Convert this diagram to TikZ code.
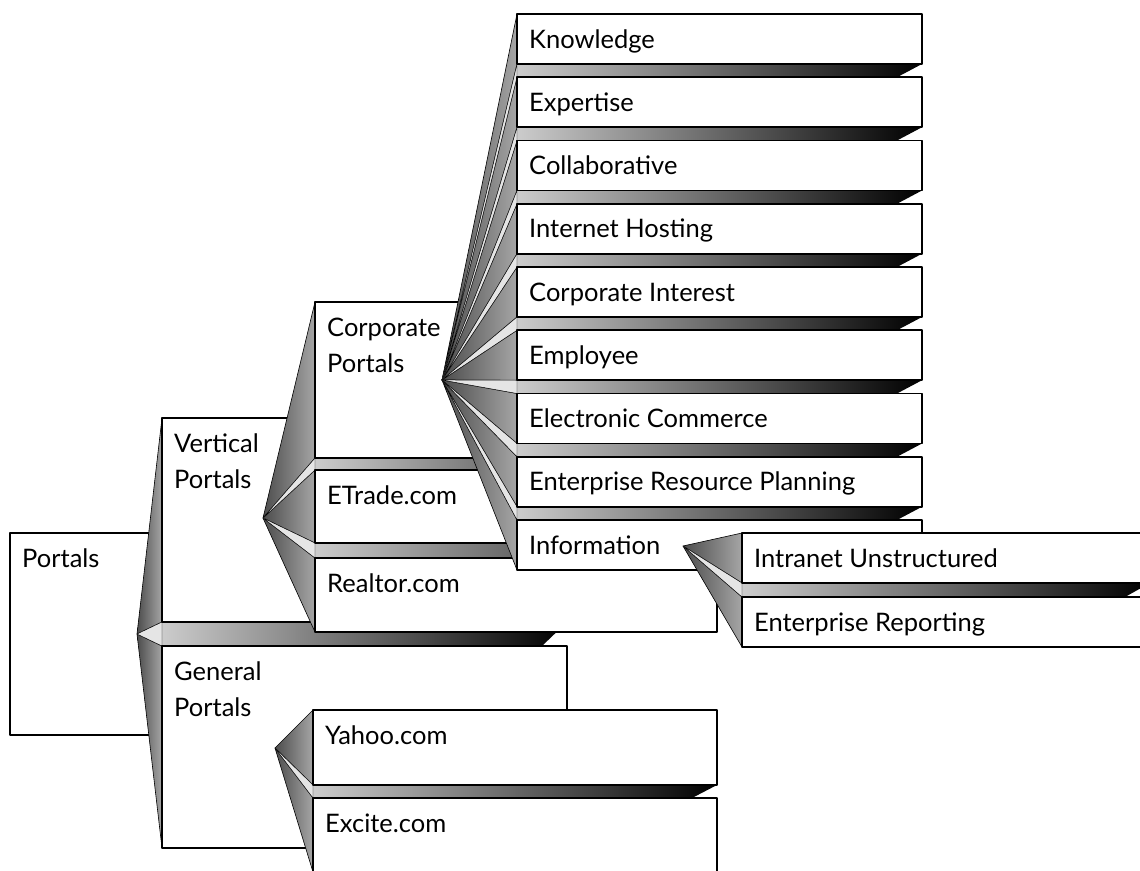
\documentclass[tikz,border=0pt]{standalone}
\usepackage{fontspec}
\setmainfont{Lato}
\usetikzlibrary{calc}
% slot: where a box sits (no ink), pbox: draws it with its text
\def\slot(#1)(#2,#3)(#4,#5){\node[slot, minimum width=#4pt, minimum height=#5pt] (#1) at (#2,#3) {};}
\def\pbox(#1)#2{\draw[boxline] (#1.north west) rectangle (#1.south east); \node[plabel] at ($(#1.north west)+(12,34)$) {\begin{tabular}[t]{@{}l@{}}#2\end{tabular}};}
% one blade of a fan, and the fold between two neighbours
\def\leaf(#1)(#2){\path[leaf] (#1) -- (#2.north west) -- (#2.south west) -- cycle;}
\def\fold(#1)(#2)(#3){\path[band] (#2.south west) -- (#2.south west -| #3.north east) -- ($(#3.north east)+(-25,0)$) -- (#3.north west) -- cycle; \path[gap] (#1) -- (#2.south west) -- (#3.north west) -- cycle;}

\begin{document}
\begin{tikzpicture}[x=1pt, y=-1pt, line join=round,
	slot/.style={anchor=north west, inner sep=0pt, outer sep=0pt},
	boxline/.style={draw=black, fill=white, line width=1.6pt},
	plabel/.style={anchor=base west, inner sep=0pt, font=\fontsize{25.5}{36}\selectfont},
	leaf/.style={draw=black, line width=0.6pt, left color=black!70, right color=black!35},
	band/.style={left color=black!20, right color=black},
	gap/.style={draw=black, line width=0.4pt, fill=black!10}]
			%%%%% START %%%%%
			
			\useasboundingbox (0,0) rectangle (1140,870);
			\clip (0,0) rectangle (1140,870);
			\fill[white] (0,0) rectangle (1140,870);
			
			% boxes
			\slot(portals)(10,533)(152,202)
			\slot(vertical)(162,418)(253,204)
			\slot(general)(162,646)(405,202)
			\slot(corporate)(315,302)(404,156)
			\slot(etrade)(315,470)(402,73)
			\slot(realtor)(315,558)(402,74)
			\slot(yahoo)(313,710)(404,75)
			\slot(excite)(313,798)(404,74)
			\foreach \nm [count=\i from 0] in {knowledge,expertise,collab,hosting,interest,employee,ecommerce,erp,information}
				{\slot(\nm)(517,{14+63.25*\i})(405,50)}
			\slot(intranet)(742,533)(408,50)
			\slot(reporting)(742,597)(408,50)
			
			% fan apexes
			\coordinate (portals-fan) at (137,634);
			\coordinate (vertical-fan) at (263,518);
			\coordinate (general-fan) at (275,748);
			\coordinate (corporate-fan) at (442,380);
			\coordinate (information-fan) at (683,546);
			
			\pbox(portals){Portals}
			\leaf(portals-fan)(vertical)
			\leaf(portals-fan)(general)
			\fold(portals-fan)(vertical)(general)
			
			\pbox(vertical){Vertical\\Portals}
			\pbox(general){General\\Portals}
			
			\leaf(vertical-fan)(corporate)
			\leaf(vertical-fan)(etrade)
			\leaf(vertical-fan)(realtor)
			\fold(vertical-fan)(corporate)(etrade)
			\fold(vertical-fan)(etrade)(realtor)
			
			\leaf(general-fan)(yahoo)
			\leaf(general-fan)(excite)
			\fold(general-fan)(yahoo)(excite)
			
			\pbox(corporate){Corporate\\Portals}
			\pbox(etrade){ETrade.com}
			\pbox(realtor){Realtor.com}
			\pbox(yahoo){Yahoo.com}
			\pbox(excite){Excite.com}
			
			\foreach \nm in {knowledge,expertise,collab,hosting,interest,employee,ecommerce,erp,information}
				{\leaf(corporate-fan)(\nm)}
			\foreach \up/\dn in {knowledge/expertise,expertise/collab,collab/hosting,hosting/interest,interest/employee,employee/ecommerce,ecommerce/erp,erp/information}
				{\fold(corporate-fan)(\up)(\dn)}
			
			\foreach \nm/\txt in {knowledge/Knowledge,expertise/Expertise,collab/Collaborative,hosting/Internet Hosting,interest/Corporate Interest,employee/Employee,ecommerce/Electronic Commerce,erp/Enterprise Resource Planning,information/Information}
				{\pbox(\nm){\txt}}
			
			\leaf(information-fan)(intranet)
			\leaf(information-fan)(reporting)
			\fold(information-fan)(intranet)(reporting)
			
			\pbox(intranet){Intranet Unstructured}
			\pbox(reporting){Enterprise Reporting}
			
			%%%%% END %%%%%
\end{tikzpicture}
\end{document}
